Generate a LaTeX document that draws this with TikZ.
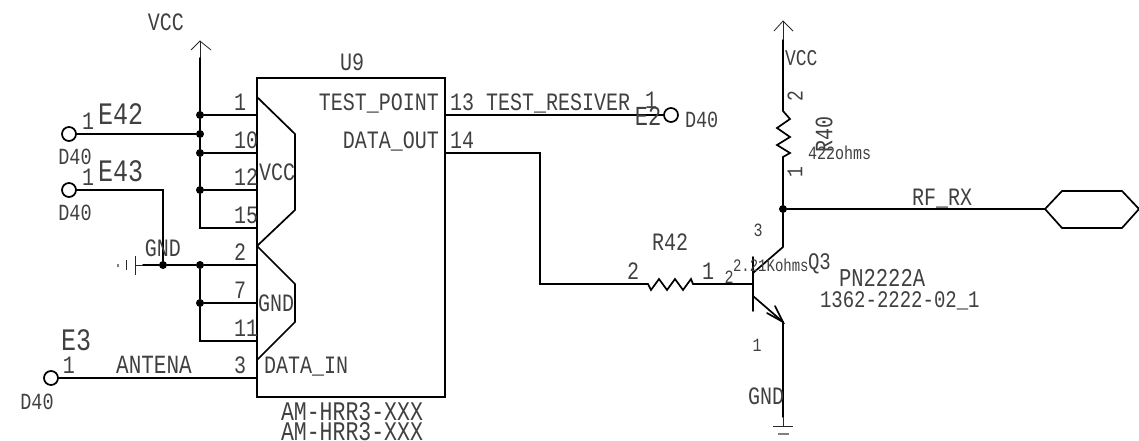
\documentclass[tikz,border=0pt]{standalone}
\usepackage{fontspec}
\setmonofont{Liberation Mono}
\tikzset{
  x=1pt,y=-1pt,
  wire/.style={line width=1.7pt,black,line cap=round,line join=miter},
  stub/.style={line width=1.1pt,black},
  faint/.style={line width=0.8pt,black!85},
  faintb/.style={line width=1.3pt,black!50},
  dotj/.style={circle,fill=black,inner sep=0pt,minimum size=8pt},
  term/.style={circle,draw=black,line width=1.7pt,fill=white,inner sep=0pt,minimum size=14pt},
  lab/.style={inner sep=0pt,outer sep=0pt,text=black!75},
}
\newcommand{\fs}[1]{\fontsize{#1}{#1}\selectfont}
\newcommand{\T}[2]{\raisebox{0pt}[\height][0pt]{\scalebox{1}[1.25]{\ttfamily\fs{#1}#2}}}
\begin{document}
\begin{tikzpicture}
\useasboundingbox (0,0) rectangle (1139,441);
\coordinate (vt) at (200,41);
\coordinate (va) at (200,58);
\coordinate (b1) at (200,228);
\node[term] (e42) at (69,134) {};
\node[term] (e43) at (69,190) {};
\node[term] (e3) at (51,378) {};
\node[term] (e2) at (671,115) {};
\node[dotj] (j1) at (200,115) {};
\node[dotj] (j2) at (200,134) {};
\node[dotj] (j3) at (200,153) {};
\node[dotj] (j4) at (200,190) {};
\node[dotj] (j5) at (163,265) {};
\node[dotj] (j6) at (200,265) {};
\node[dotj] (j7) at (200,303) {};
\node[dotj] (j8) at (783,209) {};
\coordinate (p1) at (257,115);
\coordinate (p10) at (257,153);
\coordinate (p12) at (257,190);
\coordinate (p15) at (257,228);
\coordinate (p2) at (257,265);
\coordinate (p7) at (257,303);
\coordinate (p11) at (257,341);
\coordinate (p3) at (257,378);
\coordinate (p13) at (445,115);
\coordinate (p14) at (445,153);
\coordinate (s1) at (238,115);
\coordinate (s10) at (238,153);
\coordinate (s12) at (238,190);
\coordinate (s15) at (238,228);
\coordinate (s2) at (238,265);
\coordinate (s7) at (238,303);
\coordinate (s11) at (238,341);
\coordinate (s3) at (238,378);
\coordinate (s13) at (464,115);
\coordinate (s14) at (464,153);
% IC body
\draw[wire] (257,78) rectangle (445,397);
\draw[wire] (257,97) -- (295,134) -- (295,210) -- (257,246) -- (295,284) -- (295,322) -- (257,360);
% left rail
\draw[faint] (vt) -- (va);
\draw[faint] (191,50) -- (vt) -- (211,50);
\draw[wire] (va) -- (j1) -- (j2) -- (j3) -- (j4) -- (b1) -- (s15);
\draw[wire] (j1) -- (s1);
\draw[wire] (e42) -- (j2);
\draw[wire] (j3) -- (s10);
\draw[wire] (j4) -- (s12);
\draw[wire] (e43) -- (163,190) -- (j5);
\draw[wire] (143,265) -- (j5) -- (j6) -- (s2);
\draw[wire] (j6) -- (j7) -- (200,341) -- (s11);
\draw[wire] (j7) -- (s7);
\draw[wire] (e3) -- (s3);
\foreach \a/\b in {s1/p1,s10/p10,s12/p12,s15/p15,s2/p2,s7/p7,s11/p11,s3/p3,s13/p13,s14/p14}
  \draw[stub] (\a) -- (\b);
% ground left
\draw[faint] (143,265) -- (135,265);
\draw[faint] (135,256) -- (135,275);
\draw[faint] (126,260) -- (126,270);
\draw[faintb] (118,264) -- (118,267);
% right pins
\draw[wire] (s13) -- (e2);
\draw[wire] (s14) -- (540,153) -- (540,284) -- (648,284);
\draw[wire] (648,284) -- (651,290) -- (659,279) -- (667,290) -- (675,279) -- (683,290) -- (691,279) -- (693,284) -- (753,284);
% transistor
\draw[wire] (753,257) -- (753,311);
\draw[wire] (753,273) -- (783,247) -- (j8);
\draw[wire] (753,296) -- (783,322) -- (783,417);
\draw[wire] (767,313) -- (783,322) -- (775,306);
\draw[wire] (j8) -- (783,157) -- (790,153) -- (777,145) -- (790,137) -- (777,128) -- (790,119) -- (783,111) -- (783,40);
\draw[faint] (783,40) -- (783,21);
\draw[faint] (774,31) -- (783,21) -- (793,31);
% ground bottom
\draw[faint] (783,417) -- (783,426);
\draw[faint] (773,426) -- (793,426);
\draw[faintb] (778,434) -- (789,434);
% RF
\draw[wire] (j8) -- (1045,209);
\draw[wire] (1045,209) -- (1062,191) -- (1122,191) -- (1139,209) -- (1122,228) -- (1062,228) -- cycle;
% labels
\node[lab] at (166,22) {\T{20}{VCC}};
\node[lab] at (352,62) {\T{20}{U9}};
\node[lab,anchor=west] at (98,114) {\T{25}{E42}};
\node[lab,anchor=west] at (98,171) {\T{25}{E43}};
\node[lab,anchor=west] at (61,340) {\T{25}{E3}};
\node[lab] at (88,121) {\T{20}{1}};
\node[lab] at (88,177) {\T{20}{1}};
\node[lab] at (69,365) {\T{20}{1}};
\node[lab] at (75,157) {\T{18.5}{D40}};
\node[lab] at (75,213) {\T{18.5}{D40}};
\node[lab] at (37,402) {\T{18.5}{D40}};
\node[lab,anchor=west] at (685,120) {\T{18.5}{D40}};
\node[lab] at (240,102) {\T{20}{1}};
\node[lab] at (246,140) {\T{20}{10}};
\node[lab] at (246,177) {\T{20}{12}};
\node[lab] at (246,215) {\T{20}{15}};
\node[lab] at (240,252) {\T{20}{2}};
\node[lab] at (240,290) {\T{20}{7}};
\node[lab] at (246,328) {\T{20}{11}};
\node[lab] at (240,365) {\T{20}{3}};
\node[lab] at (277,172) {\T{20}{VCC}};
\node[lab] at (276,303) {\T{20}{GND}};
\node[lab] at (163,248) {\T{20}{GND}};
\node[lab] at (154,365) {\T{21}{ANTENA}};
\node[lab,anchor=west] at (264,365) {\T{20}{DATA\_IN}};
\node[lab,anchor=east] at (439,102) {\T{20}{TEST\_POINT}};
\node[lab,anchor=east] at (439,140) {\T{20}{DATA\_OUT}};
\node[lab,anchor=west] at (450,102) {\T{20}{13}};
\node[lab,anchor=west] at (450,140) {\T{20}{14}};
\node[lab,anchor=west] at (486,102) {\T{20}{TEST\_RESIVER}};
\node[lab] at (651,100) {\T{20}{1}};
\node[lab] at (648,116) {\T{22}{E2}};
\node[lab] at (352,412) {\T{21.5}{AM-HRR3-XXX}};
\node[lab] at (352,432) {\T{21.5}{AM-HRR3-XXX}};
\node[lab,anchor=west] at (785,58) {\T{18}{VCC}};
\node[lab,rotate=90] at (795,96) {\T{18}{2}};
\node[lab,rotate=90] at (795,172) {\T{18}{1}};
\node[lab,rotate=90] at (824,134) {\T{20}{R40}};
\node[lab,anchor=west] at (808,153) {\T{15}{422ohms}};
\node[lab] at (942,197) {\T{20}{RF\_RX}};
\node[lab] at (670,242) {\T{20}{R42}};
\node[lab] at (633,271) {\T{20}{2}};
\node[lab] at (708,271) {\T{20}{1}};
\node[lab] at (729,277) {\T{15}{2}};
\node[lab,anchor=west] at (733,265) {\T{14}{2.21Kohms}};
\node[lab,anchor=west] at (808,262) {\T{19}{Q3}};
\node[lab] at (758,230) {\T{15}{3}};
\node[lab] at (757,345) {\T{15}{1}};
\node[lab,anchor=west] at (839,278) {\T{20.5}{PN2222A}};
\node[lab,anchor=west] at (820,300) {\T{19}{1362-2222-02\_1}};
\node[lab] at (766,396) {\T{20}{GND}};
\end{tikzpicture}
\end{document}
